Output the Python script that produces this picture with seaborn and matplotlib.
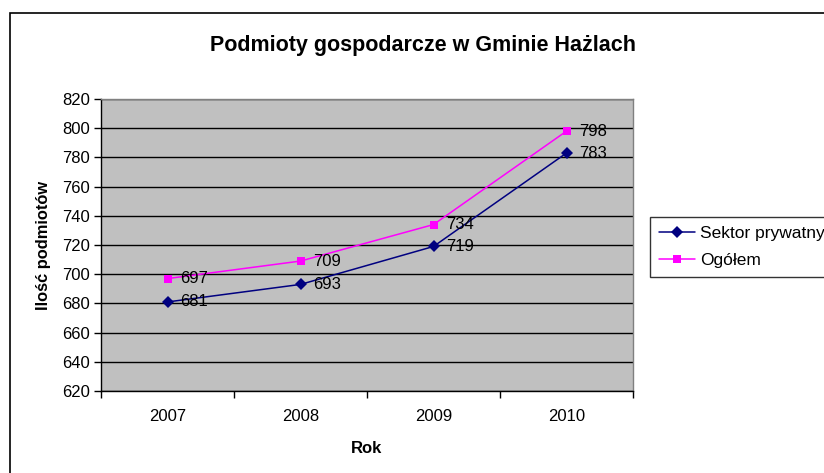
import matplotlib
matplotlib.use("Agg")
import matplotlib.pyplot as plt
import seaborn as sns
import pandas as pd
from matplotlib.lines import Line2D

years = ["2007", "2008", "2009", "2010"]
sektor_prywatny = [681, 693, 719, 783]
ogolem = [697, 709, 734, 798]
series_names = ["Sektor prywatny", "Ogółem"]
y_ticks = list(range(620, 821, 20))

sns.set_theme(style="white")
plt.rcParams['font.family'] = ['Liberation Sans', 'DejaVu Sans']
plt.rcParams['text.color'] = 'black'
plt.rcParams['axes.labelcolor'] = 'black'
plt.rcParams['xtick.color'] = 'black'
plt.rcParams['ytick.color'] = 'black'

df = pd.DataFrame({
    "Rok": years * 2,
    "val": sektor_prywatny + ogolem,
    "series": [series_names[0]] * 4 + [series_names[1]] * 4,
})
df["x"] = [0, 1, 2, 3] * 2

fig = plt.figure(figsize=(8.24, 4.73), dpi=100)
ax = fig.add_axes([101 / 824, 1 - 391 / 473, (633 - 101) / 824, (391 - 99) / 473])
ax.set_facecolor("#C0C0C0")

palette = {series_names[0]: "#000080", series_names[1]: "#FF00FF"}
markers = {series_names[0]: "D", series_names[1]: "s"}
sns.lineplot(data=df, x="x", y="val", hue="series", style="series",
             palette=palette, markers=markers, dashes=False, ax=ax,
             markersize=6, linewidth=1.1, markeredgewidth=0, legend=False)

for s, vals in zip(series_names, [sektor_prywatny, ogolem]):
    for i, v in enumerate(vals):
        ax.annotate(str(v), (i, v), xytext=(9, 0), textcoords="offset points",
                    ha="left", va="center", fontsize=12, color="black")

ax.set_xlim(-0.5, 3.5)
ax.set_ylim(620, 820)
ax.set_yticks(y_ticks)
ax.set_xticks([-0.5, 0.5, 1.5, 2.5, 3.5])
ax.set_xticklabels([])
ax.set_xticks([0, 1, 2, 3], minor=True)
ax.set_xticklabels(years, minor=True)
ax.tick_params(axis="x", which="minor", length=0, pad=13, labelsize=12)
ax.tick_params(axis="x", which="major", length=5, width=1, color="black", direction="out", bottom=True)
ax.tick_params(axis="y", length=5, width=1, color="black", direction="out", left=True, labelsize=12, pad=3)
ax.grid(axis="y", color="black", linewidth=1)
ax.set_axisbelow(True)
for side, sp in ax.spines.items():
    sp.set_color("#808080")
    sp.set_linewidth(1)
ax.spines["left"].set_color("black")
ax.spines["bottom"].set_color("black")

ax.set_xlabel("Rok", fontsize=12, fontweight="bold", labelpad=12)
ax.set_ylabel("Ilość podmiotów", fontsize=11.8, fontweight="bold", labelpad=8)
fig.text(423 / 824, 1 - 45 / 473, "Podmioty gospodarcze w Gminie Hażlach",
         ha="center", va="center", fontsize=15.5, fontweight="bold")

handles = [Line2D([], [], color=palette[s], marker=markers[s], markersize=6,
                  markeredgewidth=0, linewidth=1.1) for s in series_names]
leg = fig.legend(handles, series_names, loc="upper left",
                 bbox_to_anchor=(650 / 824, 1 - 217 / 473), frameon=True,
                 fontsize=12.5, handlelength=2.1, handletextpad=0.3,
                 borderpad=0.5, labelspacing=0.7, fancybox=False, borderaxespad=0)
leg.get_frame().set_edgecolor("black")
leg.get_frame().set_linewidth(1)

fig.add_artist(plt.Rectangle((10 / 824, -0.1), 1.1, 1 - 13 / 473 + 0.1,
                             transform=fig.transFigure, fill=False,
                             edgecolor="black", linewidth=1.2))

fig.savefig("out.png", dpi=100)
